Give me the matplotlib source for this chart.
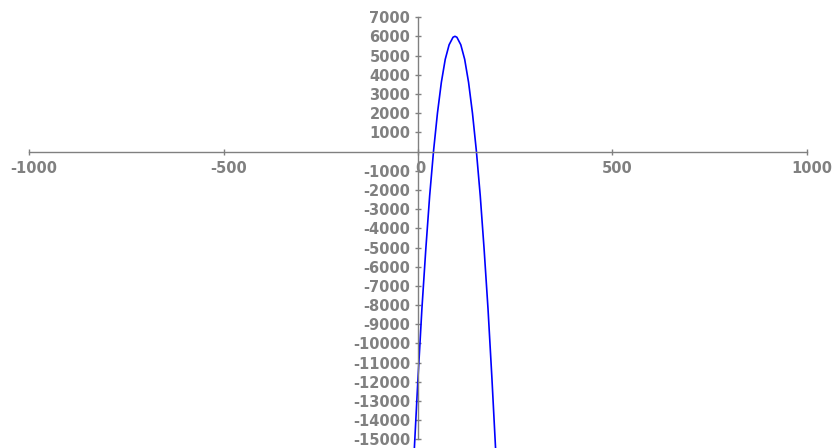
import numpy as np
import matplotlib
matplotlib.use('Agg')
import matplotlib.pyplot as plt
import matplotlib.transforms as mtransforms

# values
x_vals = [-10, 0, 10, 20, 30, 40, 50, 60, 70, 80, 90, 95,
          100, 110, 120, 130, 140, 150, 160, 170, 180, 190, 200]
y_vals = [-15700, -11800, -8200, -5100, -2300, 40, 2000, 3600, 4800, 5560, 5950, 6000,
          5950, 5560, 4800, 3600, 2000, 40, -2300, -5100, -8200, -11800, -15700]

x_ticks = [-1000, -500, 0, 500, 1000]
y_ticks = [t for t in range(-15000, 8000, 1000) if t != 0]

plt.rcParams['axes.unicode_minus'] = False
gray = '#808080'

fig = plt.figure(figsize=(8.32, 4.48), dpi=100)
ax = fig.add_axes([0, 0, 1, 1])
ax.plot(x_vals, y_vals, color='#0000ff', lw=1.2)

ax.set_xlim(-1074.6, 1064.3)
ax.set_ylim(-15443, 7891)

for side in ['top', 'right']:
    ax.spines[side].set_visible(False)
ax.spines['left'].set_position(('data', 0))
ax.spines['bottom'].set_position(('data', 0))
ax.spines['left'].set_bounds(-15000, 7000)
ax.spines['bottom'].set_bounds(-1000, 1000)
for side in ['left', 'bottom']:
    ax.spines[side].set_color(gray)
    ax.spines[side].set_linewidth(1.0)

ax.set_xticks(x_ticks)
ax.set_yticks(y_ticks)
ax.tick_params(axis='both', direction='inout', length=5, width=1, color=gray,
               labelcolor=gray, labelsize=10.5)
ax.tick_params(axis='x', pad=4.5)
ax.tick_params(axis='y', pad=3)
for lbl in ax.get_xticklabels() + ax.get_yticklabels():
    lbl.set_fontweight('bold')

# x labels sit a little right of their ticks in the original
for lbl, tx in zip(ax.get_xticklabels(), x_ticks):
    dx = 2 if tx == 0 else 5
    off = mtransforms.ScaledTranslation(dx / 100, 0, fig.dpi_scale_trans)
    lbl.set_transform(lbl.get_transform() + off)

fig.savefig('out.png', dpi=100)
